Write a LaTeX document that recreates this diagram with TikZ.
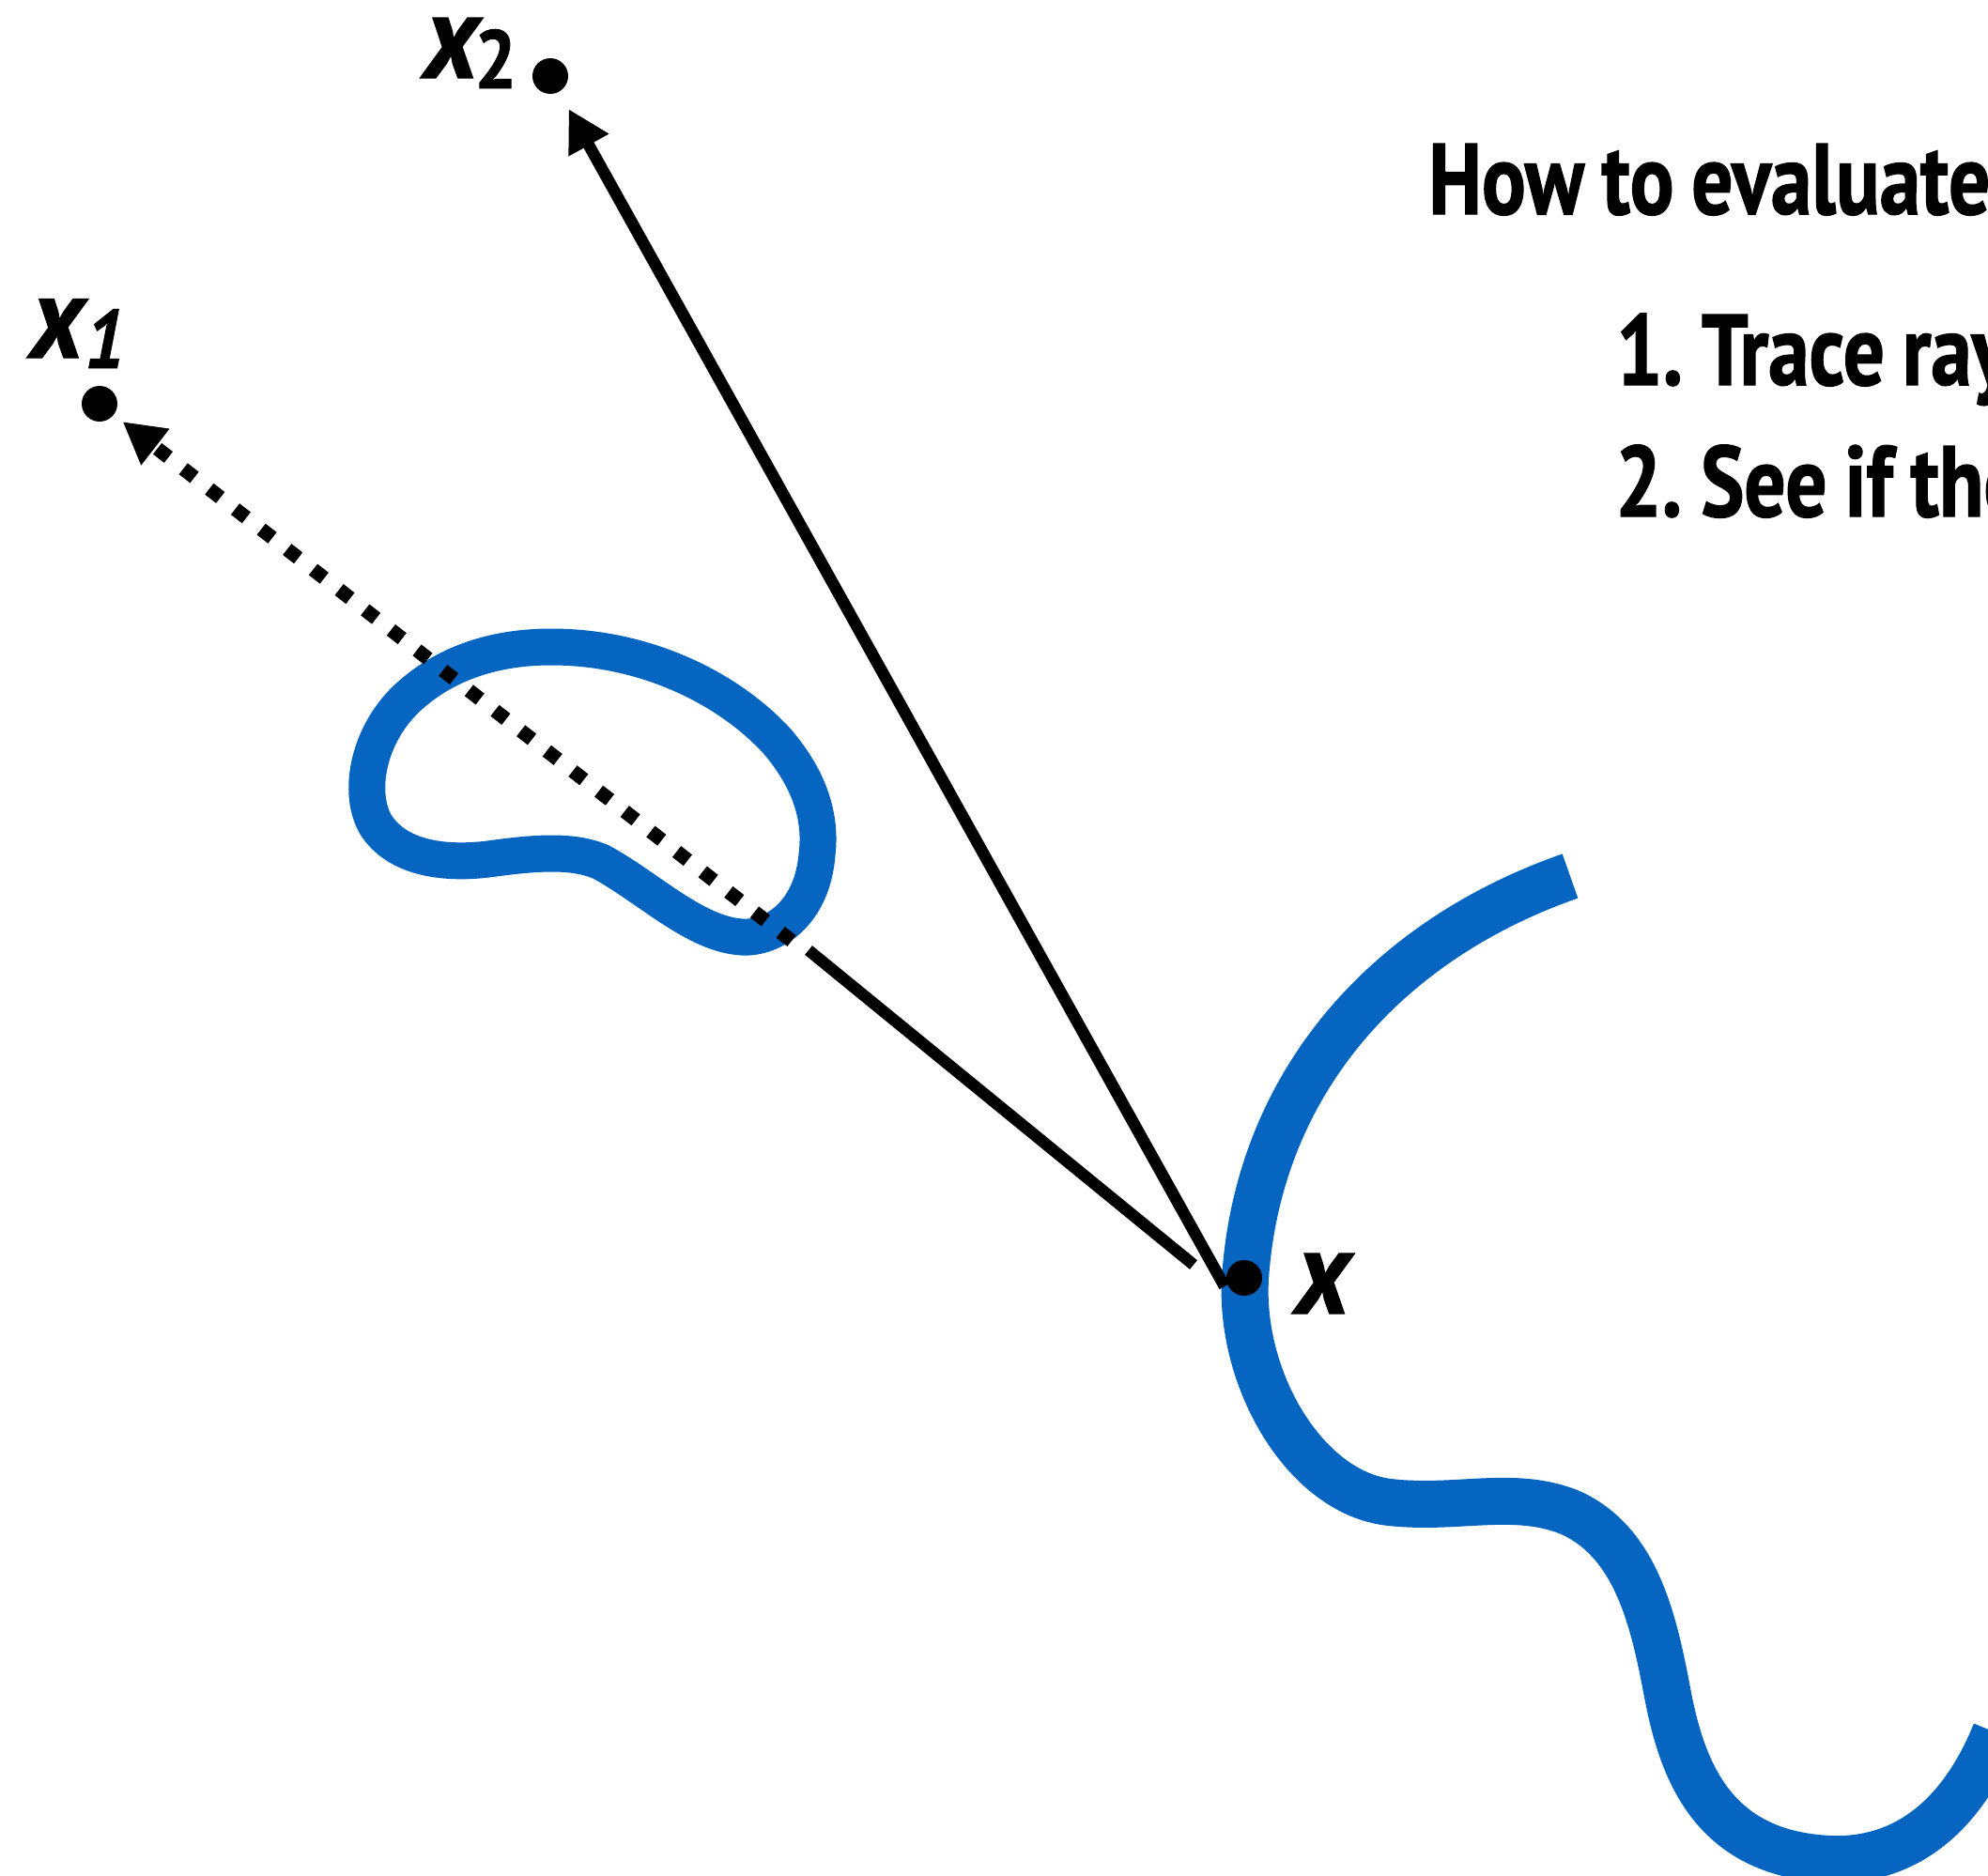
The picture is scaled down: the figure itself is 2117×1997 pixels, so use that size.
\documentclass[tikz,border=0pt]{standalone}
\usepackage{fontspec}
\setmainfont{PT Sans}
\newfontfamily\titlefont[FakeStretch=0.815,FakeBold=1.2,WordSpace=0.85]{PT Sans}
\newfontfamily\labfont[FakeStretch=0.9,FakeBold=1]{PT Sans}
\usetikzlibrary{arrows.meta}
\definecolor{surf}{RGB}{5,101,192}
\begin{document}
\begin{tikzpicture}[x=1pt,y=-1pt,
  surface/.style={draw=surf, line width=50pt},
  blob/.style={draw=surf, line width=39pt},
  ray/.style={draw=black, line width=12.5pt},
  dotray/.style={draw=black, line width=15pt, dash pattern=on 15pt off 20pt},
  tip/.style={-{Triangle[length=44pt,width=46pt]}},
  dot/.style={circle, fill=black, inner sep=0pt, minimum size=38pt},
  lab/.style={inner sep=0pt, anchor=base west},
  title/.style={inner sep=0pt, anchor=base west, font=\titlefont\bfseries\fontsize{107}{107}\selectfont}]
\useasboundingbox (0,0) rectangle (2117,1997);

% surface curve
\draw[surface] (1672,933) .. controls (1480,1000) and (1340,1150) .. (1326,1362)
  .. controls (1320,1470) and (1390,1590) .. (1480,1600)
  .. controls (1552,1608) and (1610,1587) .. (1670,1610)
  .. controls (1740,1640) and (1760,1720) .. (1775,1800)
  .. controls (1790,1880) and (1820,1975) .. (1950,1980)
  .. controls (2040,1983) and (2095,1920) .. (2125,1845);

% occluding blob
\draw[blob] (587,689) .. controls (690,689) and (778,735) .. (828,790)
  .. controls (862,830) and (875,870) .. (870,910)
  .. controls (865,973) and (823,1000) .. (790,998)
  .. controls (740,995) and (690,945) .. (640,918)
  .. controls (610,905) and (570,908) .. (520,915)
  .. controls (470,921) and (422,913) .. (400,878)
  .. controls (381,845) and (391,785) .. (432,745)
  .. controls (472,707) and (525,689) .. (587,689) -- cycle;

% points
\node[dot] (X) at (1325,1361) {};
\node[dot] (x1) at (106,430) {};
\node[dot] (x2) at (586,81) {};

% rays
\coordinate (a0) at (1304,1370);
\draw[ray,tip,shorten >=21pt] (a0) -- (x2);
\coordinate (b0) at (1271,1347);
\coordinate (b1) at (861,1012);
\coordinate (b2) at (843,1002);
\draw[ray] (b0) -- (b1);
\draw[dotray,tip,shorten >=12pt] (b2) -- (x1);

% labels
\node[lab, font=\labfont\bfseries\itshape\fontsize{128}{128}\selectfont] (lx) at (1380,1399) {x};
\node[lab, font=\labfont\bfseries\itshape\fontsize{125}{125}\selectfont] (lx1) at (33,381) {x\kern1pt\raisebox{-11pt}{\fontsize{88}{88}\selectfont 1}};
\node[lab, font=\labfont\bfseries\itshape\fontsize{128}{128}\selectfont] (lx2) at (452,83) {x\kern-4pt\raisebox{-11pt}{\fontsize{88}{88}\selectfont\upshape 2}};

% text
\node[title] (t0) at (1521,228) {How to evaluate};
\node[title] (t1) at (1721,410) {1.\kern-6pt{} Trace ray};
\node[title] (t2) at (1720,550) {2.\kern-6pt{} See if the};
\end{tikzpicture}
\end{document}
